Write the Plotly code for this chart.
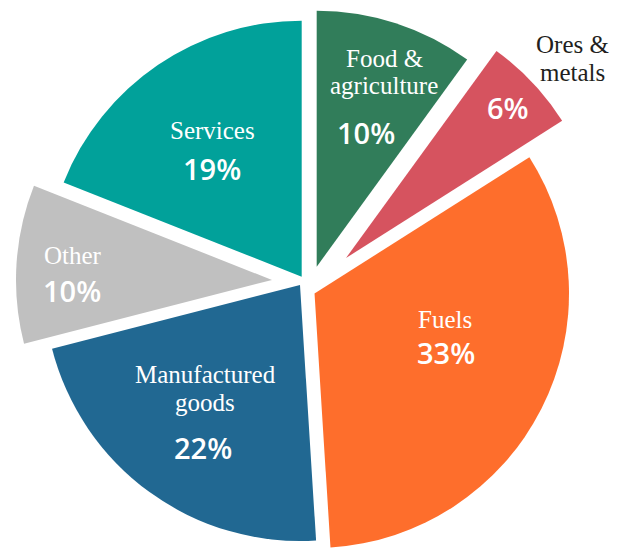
import plotly.graph_objects as go

# ---- data ----
categories = ["Food & agriculture", "Ores & metals", "Fuels", "Manufactured goods", "Other", "Services"]
label_lines = [["Food &", "agriculture"], ["Ores &", "metals"], ["Fuels"], ["Manufactured", "goods"], ["Other"], ["Services"]]
shares = [10, 6, 33, 22, 10, 19]
colors = ["#317d5a", "#d6535f", "#fe6e2c", "#216892", "#c0c0c0", "#01a19a"]

# ---- layout / style ----
W, H = 627, 548
CX, CY = 309, 285          # pie centre (px, from top-left)
R = 256                    # pie radius (px)
# explode offset of each slice from the centre (px: dx, dy downwards)
OFFSET = [(7.7, -18.3), (37, -27), (5.5, 10), (-9, 0), (-37, -5), (-7.3, -8.3)]

# label anchor points (px): (x, y of first line, line gap, pct x, pct y, label colour)
LABEL_STYLE = [
    (384, 58, 27, 366, 132, "white"),
    (572, 44, 28, 508, 107, "#231f20"),
    (445, 319, 27, 446, 352, "white"),
    (205, 374, 28, 203, 447, "white"),
    (73, 255, 27, 72, 290, "white"),
    (212, 131, 27, 212, 169, "white"),
]

fig = go.Figure()
for i, v in enumerate(shares):
    px = CX + OFFSET[i][0]
    py = CY + OFFSET[i][1]
    dx = [max(0, (px - R) / W), min(1, (px + R) / W)]
    dy = [max(0, 1 - (py + R) / H), min(1, 1 - (py - R) / H)]
    fig.add_trace(go.Pie(
        labels=categories,
        values=shares,
        sort=False,
        direction="clockwise",
        rotation=0,
        marker=dict(colors=[colors[j] if j == i else "rgba(0,0,0,0)" for j in range(len(shares))],
                    line=dict(width=0)),
        textinfo="none",
        hoverinfo="skip",
        showlegend=False,
        domain=dict(x=dx, y=dy),
    ))

annotations = []
for i, v in enumerate(shares):
    lx, ly, gap, pxp, pyp, col = LABEL_STYLE[i]
    for k, line in enumerate(label_lines[i]):
        annotations.append(dict(
            x=lx / W, y=1 - (ly + k * gap) / H, xref="paper", yref="paper",
            text=line, showarrow=False, xanchor="center", yanchor="middle",
            font=dict(family="Liberation Serif", size=25, color=col),
        ))
    annotations.append(dict(
        x=pxp / W, y=1 - pyp / H, xref="paper", yref="paper",
        text=f"{v}%", showarrow=False, xanchor="center", yanchor="middle",
        font=dict(family="Open Sans", size=29, color="white", weight=600),
    ))

fig.update_layout(
    width=W, height=H,
    margin=dict(l=0, r=0, t=0, b=0),
    paper_bgcolor="white",
    plot_bgcolor="white",
    annotations=annotations,
)

fig.write_html("out.html", config={"displayModeBar": False},
               post_script="document.body.style.margin='0';")
